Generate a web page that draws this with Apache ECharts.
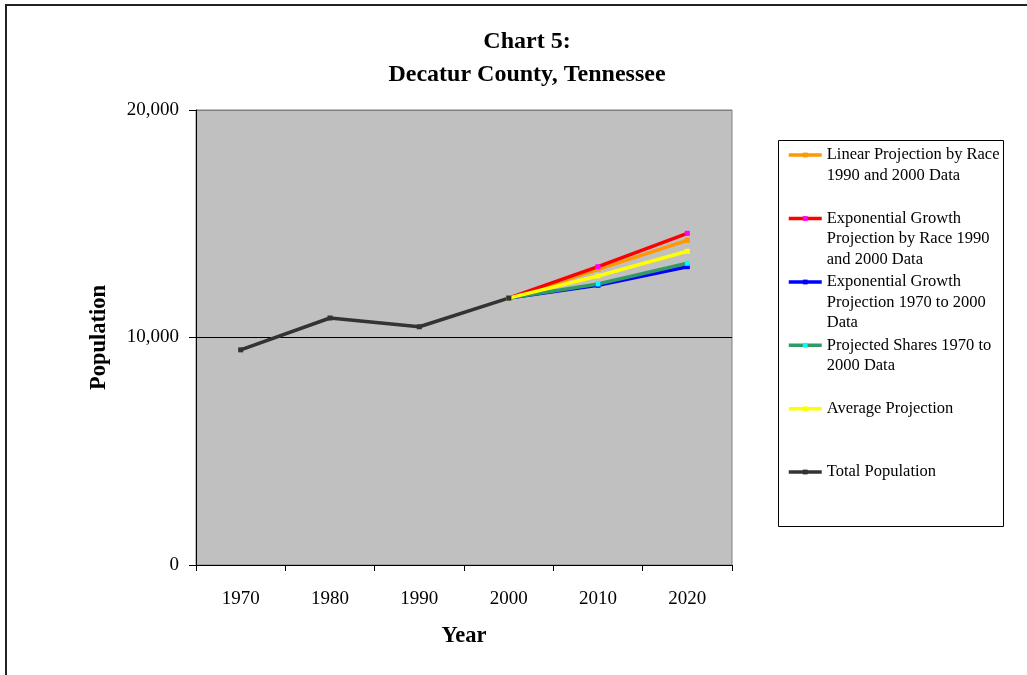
<!DOCTYPE html>
<html>
<head>
<meta charset="utf-8">
<script src="https://cdn.jsdelivr.net/npm/echarts@6/dist/echarts.min.js"></script>
<style>html,body{margin:0;padding:0;background:#fff;}#c{width:1027px;height:675px;}</style>
</head>
<body>
<div id="c"></div>
<script>
var years = ['1970', '1980', '1990', '2000', '2010', '2020'];
var totalPopulation = [9457, 10857, 10472, 11731, null, null];
var linearByRace = [null, null, null, 11731, 12998, 14272];
var expByRace = [null, null, null, 11731, 13112, 14580];
var expTrend = [null, null, null, 11731, 12295, 13112];
var projectedShares = [null, null, null, 11731, 12352, 13262];
var averageProjection = [null, null, null, 11731, 12703, 13789];
var yTickLabels = {0: '0', 10000: '10,000', 20000: '20,000'};

var seriesNames = [
  'Linear Projection by Race\n1990 and 2000 Data',
  'Exponential Growth\nProjection by Race 1990\nand 2000 Data',
  'Exponential Growth\nProjection 1970 to 2000\nData',
  'Projected Shares 1970 to\n2000 Data',
  'Average Projection',
  'Total Population'
];

var serif = '"Liberation Serif", "Times New Roman", serif';
var LH = 20.5;
var iconCenters = [154, 217.5, 281, 344.3, 407.7, 471];

function mkLegend(i) {
  var n = seriesNames[i].split('\n').length;
  var H = (2 * n - 1) * LH;
  return {
    data: [seriesNames[i]],
    left: 787,
    top: iconCenters[i] - H / 2 + 1,
    orient: 'vertical',
    padding: 0,
    itemWidth: 33,
    itemHeight: 6,
    selectedMode: false,
    lineStyle: { width: 3.5 },
    formatter: function (name) {
      var pre = '';
      for (var k = 1; k < n; k++) pre += ' \n';
      return pre + name;
    },
    textStyle: {
      fontFamily: serif,
      fontSize: 16.5,
      color: '#000',
      lineHeight: LH
    }
  };
}

function mkSeries(name, data, lineColor, markerColor) {
  return {
    name: name,
    type: 'line',
    data: data,
    connectNulls: false,
    symbol: 'rect',
    symbolSize: 5,
    showSymbol: true,
    lineStyle: { color: lineColor, width: 3.5 },
    itemStyle: { color: markerColor },
    emphasis: { disabled: true }
  };
}

var chart = echarts.init(document.getElementById('c'), null, { renderer: 'canvas' });
chart.setOption({
  animation: false,
  backgroundColor: '#fff',
  title: {
    text: 'Chart 5:\nDecatur County, Tennessee',
    left: 522,
    textAlign: 'center',
    top: 20,
    textStyle: {
      fontFamily: serif,
      fontSize: 24,
      fontWeight: 'bold',
      color: '#000',
      lineHeight: 33
    }
  },
  legend: [0, 1, 2, 3, 4, 5].map(mkLegend),
  grid: {
    left: 196,
    right: 295,
    top: 110,
    bottom: 110,
    show: true,
    backgroundColor: '#c0c0c0',
    borderColor: '#808080',
    borderWidth: 1
  },
  xAxis: {
    type: 'category',
    data: years,
    boundaryGap: true,
    name: 'Year',
    nameLocation: 'middle',
    nameGap: 60,
    nameTextStyle: { fontFamily: serif, fontSize: 22.5, fontWeight: 'bold', color: '#000' },
    axisLine: { lineStyle: { color: '#000', width: 1 } },
    axisTick: { show: true, alignWithLabel: false, length: 6, lineStyle: { color: '#000' } },
    axisLabel: { fontFamily: serif, fontSize: 19, color: '#000', margin: 25 },
    splitLine: { show: false }
  },
  yAxis: {
    type: 'value',
    min: 0,
    max: 20000,
    interval: 10000,
    name: 'Population',
    nameLocation: 'middle',
    nameGap: 85,
    nameTextStyle: { fontFamily: serif, fontSize: 22.5, fontWeight: 'bold', color: '#000' },
    axisLine: { show: true, lineStyle: { color: '#000', width: 1 } },
    axisTick: { show: true, length: 7, lineStyle: { color: '#000' } },
    axisLabel: {
      fontFamily: serif, fontSize: 19, color: '#000', margin: 17,
      formatter: function (v) { return yTickLabels[v] !== undefined ? yTickLabels[v] : String(v); }
    },
    splitLine: { show: true, lineStyle: { color: ['#000', '#000', '#808080'], width: 1 } }
  },
  graphic: [
    {
      type: 'rect',
      shape: { x: 6, y: 5, width: 1100, height: 800 },
      style: { fill: 'none', stroke: '#222', lineWidth: 2 },
      silent: true
    },
    {
      type: 'rect',
      shape: { x: 778.5, y: 140.5, width: 225, height: 386 },
      style: { fill: 'none', stroke: '#000', lineWidth: 1 },
      silent: true
    }
  ],
  series: [
    mkSeries(seriesNames[0], linearByRace, '#FF9900', '#FF9900'),
    mkSeries(seriesNames[1], expByRace, '#FF0000', '#FF00FF'),
    mkSeries(seriesNames[2], expTrend, '#0000FF', '#0000FF'),
    mkSeries(seriesNames[3], projectedShares, '#339966', '#00FFFF'),
    mkSeries(seriesNames[4], averageProjection, '#FFFF00', '#FFFF00'),
    mkSeries(seriesNames[5], totalPopulation, '#333333', '#333333')
  ]
});
</script>
</body>
</html>
